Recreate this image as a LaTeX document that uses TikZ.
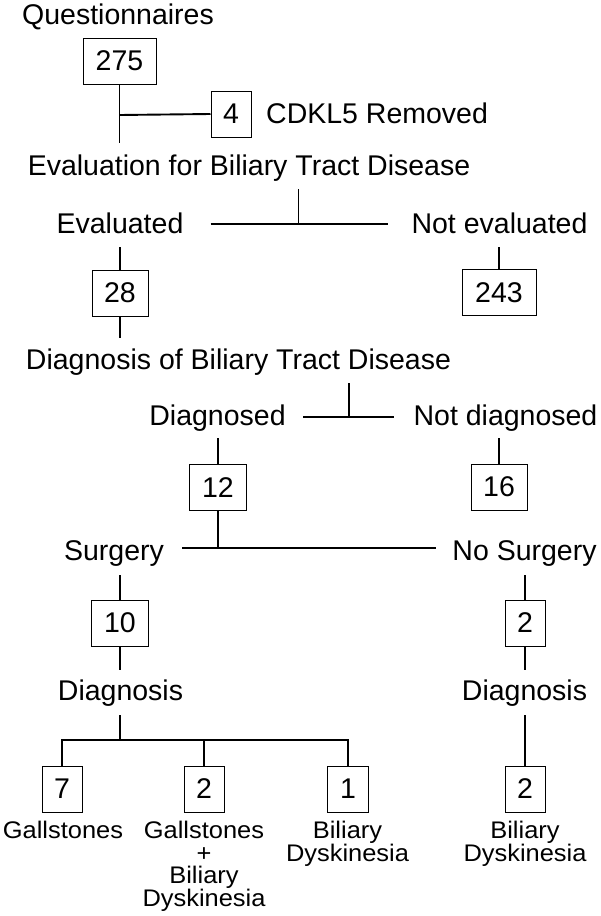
\documentclass[tikz,border=0pt]{standalone}
\usepackage{fontspec}
\setmainfont{Liberation Sans}
\newfontfamily\widesans[FakeStretch=1.06]{Liberation Sans}
\begin{document}
\begin{tikzpicture}[x=1pt,y=-1pt,
  lbl/.style={inner sep=0pt,anchor=base,font=\fontsize{28.5}{32}\selectfont},
  small/.style={inner sep=0pt,anchor=north,align=center,font=\widesans\fontsize{24}{22.5}\selectfont},
  numbox/.style={draw,line width=1pt,inner sep=0pt,minimum height=46pt,font=\fontsize{28.5}{32}\selectfont},
  conn/.style={line width=1.9pt}]
\useasboundingbox (0,0) rectangle (600,916);
\fill[white] (0,0) rectangle (600,916);
% texts and boxes
\node[lbl] (q) at (118,24) {Questionnaires};
\node[numbox,minimum width=73pt] (b275) at (119.5,61) {275};
\node[numbox,minimum width=40pt] (b4) at (231,114) {4};
\node[lbl,anchor=base west] (cdkl) at (266,123) {CDKL5 Removed};
\node[lbl] (evalt) at (249,175) {Evaluation for Biliary Tract Disease};
\node[lbl] (evd) at (120,233) {Evaluated};
\node[lbl] (nevd) at (499.5,233) {Not evaluated};
\node[numbox,minimum width=56pt] (b28) at (120,293) {28};
\node[numbox,minimum width=74pt] (b243) at (499,292.5) {243};
\node[lbl] (diagt) at (238.5,369) {Diagnosis of Biliary Tract Disease};
\node[lbl] (dgd) at (217.5,425) {Diagnosed};
\node[lbl] (ndgd) at (505.5,425) {Not diagnosed};
\node[numbox,minimum width=57pt] (b12) at (218,487.5) {12};
\node[numbox,minimum width=56pt] (b16) at (499,487) {16};
\node[lbl] (surg) at (114,560) {Surgery};
\node[lbl] (nsurg) at (524.5,560) {No Surgery};
\node[numbox,minimum width=57pt] (b10) at (120,623) {10};
\node[numbox,minimum width=40pt] (b2r) at (525,623) {2};
\node[lbl] (dxl) at (120.5,700) {Diagnosis};
\node[lbl] (dxr) at (524.5,700) {Diagnosis};
\node[numbox,minimum width=40pt] (b7) at (62,789) {7};
\node[numbox,minimum width=40pt] (b2m) at (204,789) {2};
\node[numbox,minimum width=41pt] (b1) at (348,789) {1};
\node[numbox,minimum width=40pt] (b2b) at (525,789) {2};
\node[small] (l7) at (63,821) {Gallstones};
\node[small] (l2m) at (204,821) {Gallstones\\+\\Biliary\\Dyskinesia};
\node[small] (l1) at (347.5,821) {Biliary\\Dyskinesia};
\node[small] (l2b) at (525,821) {Biliary\\Dyskinesia};
% coordinates
\coordinate (j1) at (119.5,115);
\coordinate (e1) at (119.5,143);
\coordinate (t2) at (298.5,189);
\coordinate (j2) at (298.5,224);
\coordinate (l2) at (210.5,224);
\coordinate (r2) at (387.5,224);
\coordinate (s3) at (120,247);
\coordinate (e3) at (120,338);
\coordinate (s4) at (499,247);
\coordinate (t5) at (349,383);
\coordinate (j5) at (349,417);
\coordinate (l5) at (303,417);
\coordinate (r5) at (394,417);
\coordinate (s6) at (218,438);
\coordinate (s6r) at (499,438);
\coordinate (j7) at (218,548);
\coordinate (l7c) at (182,548);
\coordinate (r7) at (435.5,548);
\coordinate (s8) at (120,575);
\coordinate (e8) at (120,670);
\coordinate (t8) at (120,715);
\coordinate (hb) at (120,740);
\coordinate (s9) at (525,575);
\coordinate (e9) at (525,670);
\coordinate (t9) at (525,715);
% connectors
\draw[conn] (b275.south) -- (e1);
\draw[conn] (j1) -- (b4.west);
\draw[conn] (t2) -- (j2);
\draw[conn] (l2) -- (r2);
\draw[conn] (s3) -- (b28.north);
\draw[conn] (b28.south) -- (e3);
\draw[conn] (s4) -- (b243.north);
\draw[conn] (t5) -- (j5);
\draw[conn] (l5) -- (r5);
\draw[conn] (s6) -- (b12.north);
\draw[conn] (s6r) -- (b16.north);
\draw[conn] (b12.south) -- (j7);
\draw[conn] (l7c) -- (r7);
\draw[conn] (s8) -- (b10.north);
\draw[conn] (b10.south) -- (e8);
\draw[conn] (t8) -- (hb);
\draw[conn] (b7.north) -- (b7.north |- hb) -- (b1.north |- hb) -- (b1.north);
\draw[conn] (b2m.north |- hb) -- (b2m.north);
\draw[conn] (s9) -- (b2r.north);
\draw[conn] (b2r.south) -- (e9);
\draw[conn] (t9) -- (b2b.north);
\end{tikzpicture}
\end{document}
